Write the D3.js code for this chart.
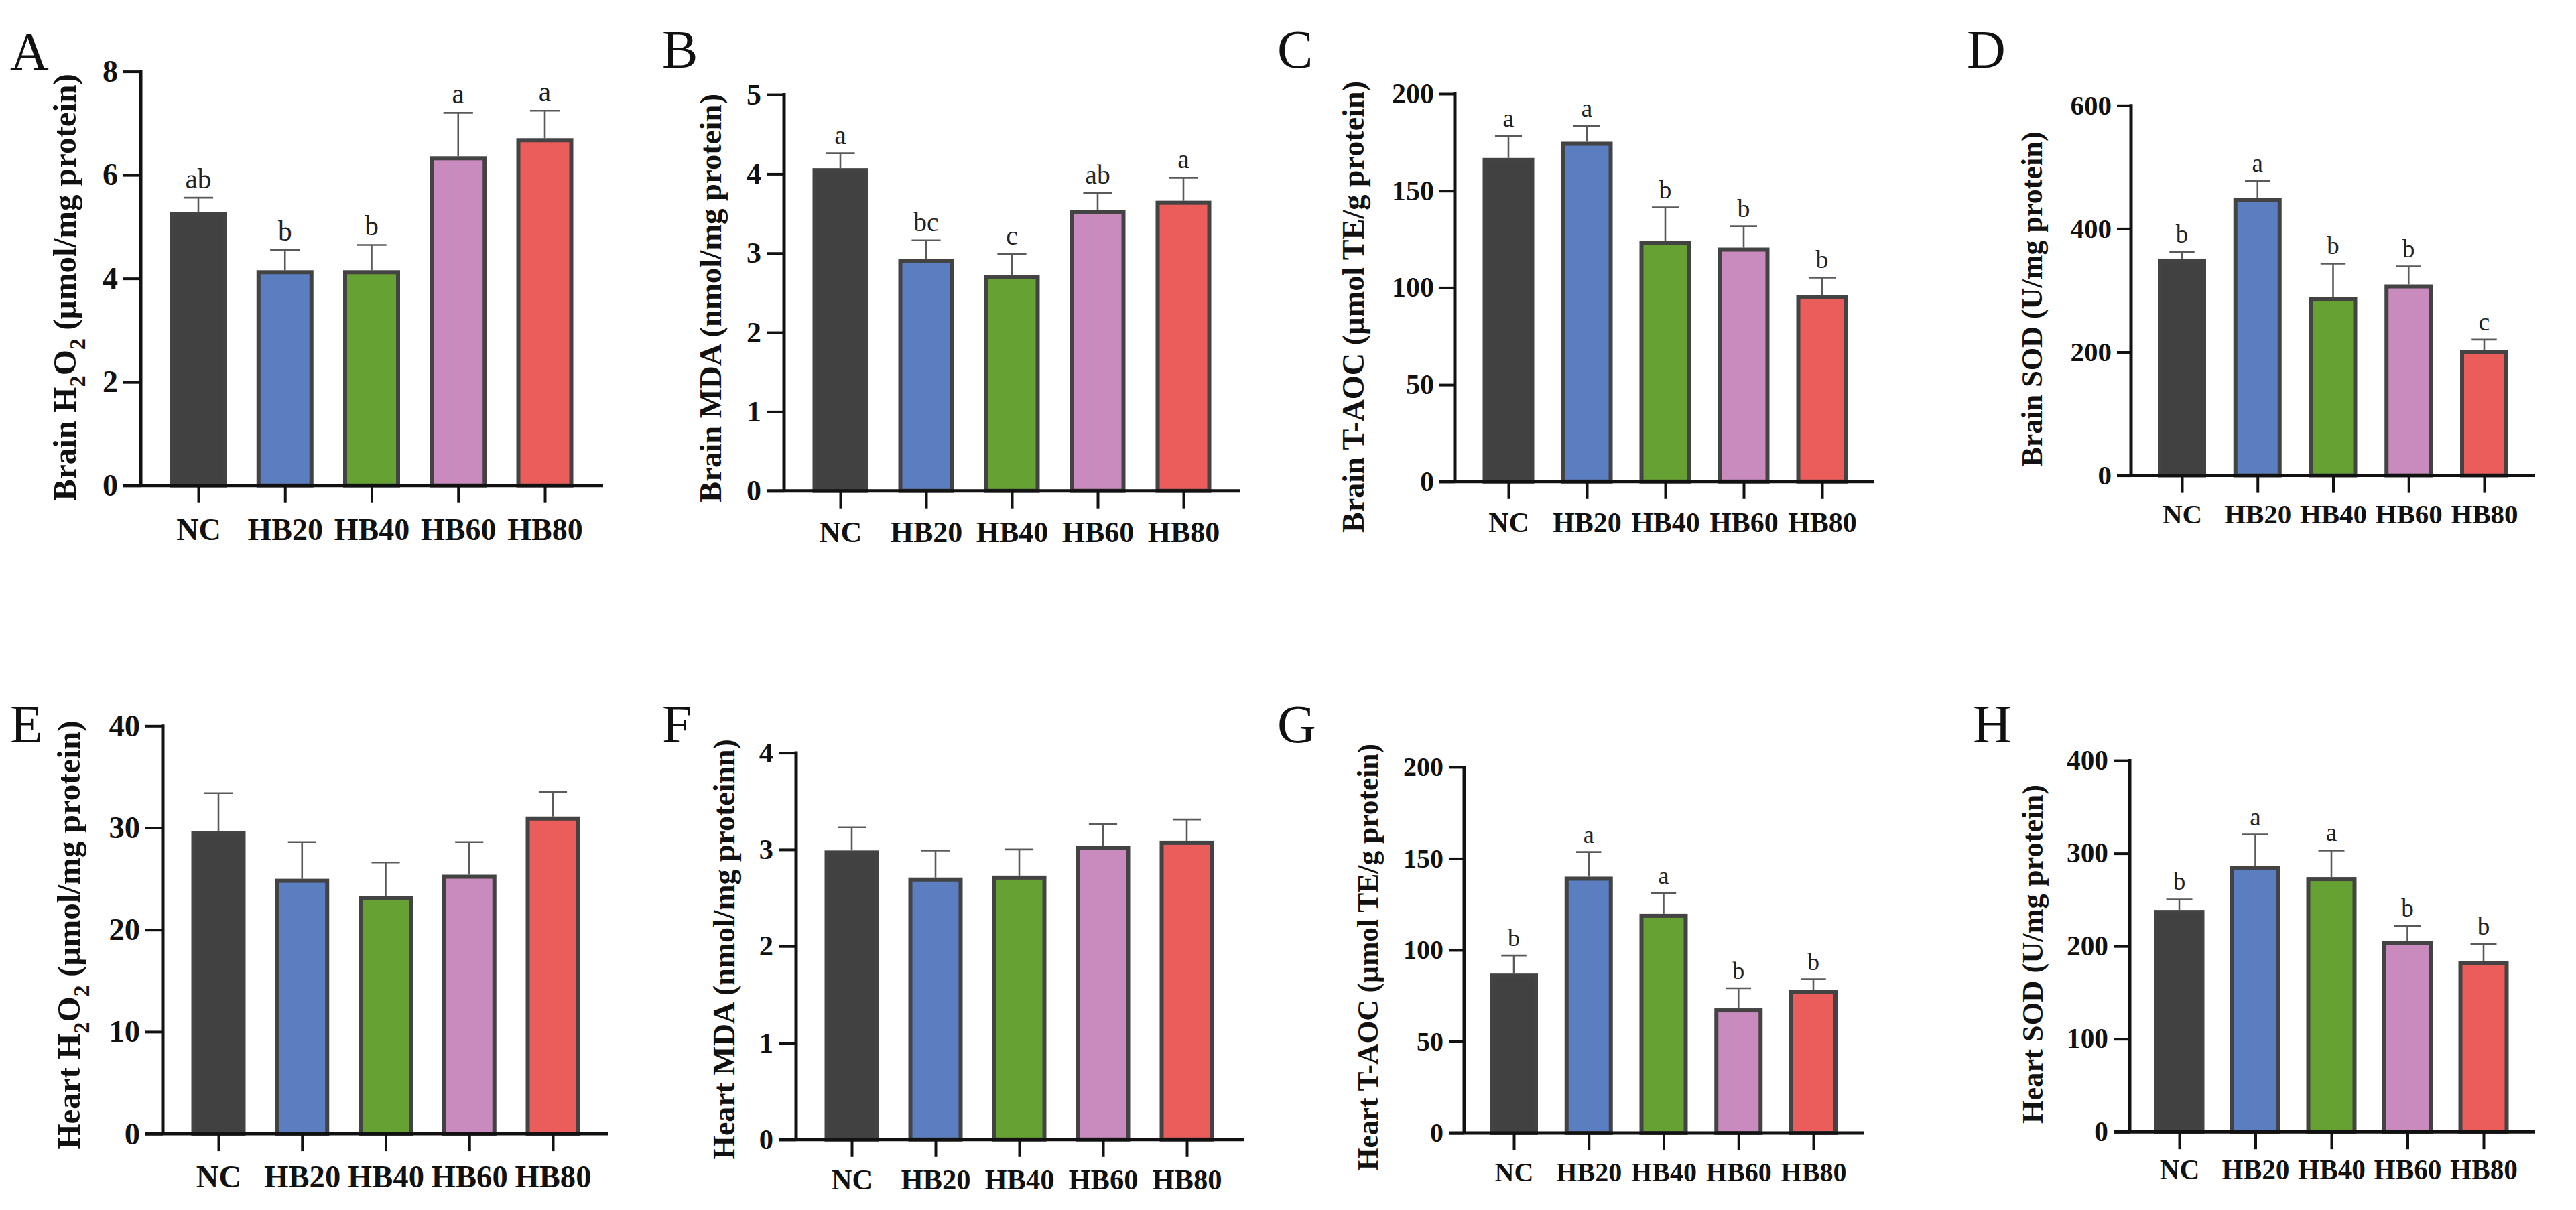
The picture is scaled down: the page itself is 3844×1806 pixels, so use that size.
<!DOCTYPE html>
<html>
<head>
<meta charset="utf-8">
<script src="https://cdn.jsdelivr.net/npm/d3@7"></script>
<style>
  html, body { margin: 0; padding: 0; background: #fff; }
  svg { display: block; }
  text { font-family: "Liberation Serif", "Times New Roman", serif; }
</style>
</head>
<body>
<svg id="chart" width="3844" height="1806"></svg>
<script>
// groups and colours
var groups = ["NC", "HB20", "HB40", "HB60", "HB80"];
var barColors = ["#414141", "#5a7ec0", "#66a133", "#c98bbd", "#eb5d5b"];

// Brain
var brainH2O2 = [5.28, 4.16, 4.16, 6.36, 6.71];
var brainH2O2Err = [0.28, 0.39, 0.49, 0.84, 0.53];
var brainH2O2Sig = ["ab", "b", "b", "a", "a"];
var brainH2O2Ticks = [0, 2, 4, 6, 8];

var brainMDA = [4.07, 2.93, 2.72, 3.54, 3.66];
var brainMDAErr = [0.19, 0.23, 0.27, 0.22, 0.29];
var brainMDASig = ["a", "bc", "c", "ab", "a"];
var brainMDATicks = [0, 1, 2, 3, 4, 5];

var brainTAOC = [166.9, 175.3, 124.1, 120.7, 96.2];
var brainTAOCErr = [11.4, 8.0, 17.3, 11.0, 9.0];
var brainTAOCSig = ["a", "a", "b", "b", "b"];
var brainTAOCTicks = [0, 50, 100, 150, 200];

var brainSOD = [351.6, 449.8, 289.0, 309.7, 202.7];
var brainSODErr = [11.2, 28.2, 54.5, 29.3, 17.5];
var brainSODSig = ["b", "a", "b", "b", "c"];
var brainSODTicks = [0, 200, 400, 600];

// Heart
var heartH2O2 = [29.7, 25.0, 23.3, 25.4, 31.1];
var heartH2O2Err = [3.7, 3.6, 3.3, 3.2, 2.4];
var heartH2O2Ticks = [0, 10, 20, 30, 40];

var heartMDA = [2.99, 2.71, 2.73, 3.04, 3.09];
var heartMDAErr = [0.24, 0.28, 0.27, 0.22, 0.22];
var heartMDATicks = [0, 1, 2, 3, 4];

var heartTAOC = [87.1, 140.1, 119.8, 68.1, 78.1];
var heartTAOCErr = [9.9, 13.5, 11.2, 11.0, 5.9];
var heartTAOCSig = ["b", "a", "a", "b", "b"];
var heartTAOCTicks = [0, 50, 100, 150, 200];

var heartSOD = [239.0, 286.5, 274.4, 205.8, 183.8];
var heartSODErr = [11.3, 33.7, 28.7, 16.2, 18.3];
var heartSODSig = ["b", "a", "a", "b", "b"];
var heartSODTicks = [0, 100, 200, 300, 400];

// titles: [text, isSubscript]
var titleBrainH2O2 = [["Brain H"], ["2", true], ["O"], ["2", true], [" (\u00b5mol/mg protein)"]];
var titleBrainMDA = [["Brain MDA (nmol/mg protein)"]];
var titleBrainTAOC = [["Brain T-AOC (\u00b5mol TE/g protein)"]];
var titleBrainSOD = [["Brain SOD (U/mg protein)"]];
var titleHeartH2O2 = [["Heart H"], ["2", true], ["O"], ["2", true], [" (\u00b5mol/mg protein)"]];
var titleHeartMDA = [["Heart MDA (nmol/mg proteinn)"]];
var titleHeartTAOC = [["Heart T-AOC (\u00b5mol TE/g protein)"]];
var titleHeartSOD = [["Heart SOD (U/mg protein)"]];

// panel layout (pixels)
var panels = [
    {key: "A", lx: 15, ly: 104, ax: 210, yTop: 106.6, y0: 724.7, c0: 296, c1: 813, xEnd: 900, barW: 85, tick: 26, fs: 46, tx: 113, ty: 429, tfs: 49, ldy: 79,
        values: brainH2O2, errs: brainH2O2Err, sig: brainH2O2Sig, ticks: brainH2O2Ticks, title: titleBrainH2O2},
    {key: "B", lx: 988, ly: 101, ax: 1170, yTop: 141.1, y0: 732.7, c0: 1254, c1: 1766, xEnd: 1851, barW: 83, tick: 26, fs: 44, tx: 1076, ty: 445, tfs: 46.7, ldy: 74,
        values: brainMDA, errs: brainMDAErr, sig: brainMDASig, ticks: brainMDATicks, title: titleBrainMDA},
    {key: "C", lx: 1906, ly: 101, ax: 2171, yTop: 140, y0: 718.8, c0: 2251, c1: 2719, xEnd: 2797, barW: 77, tick: 23, fs: 42, tx: 2035, ty: 458, tfs: 46.2, ldy: 73,
        values: brainTAOC, errs: brainTAOCErr, sig: brainTAOCSig, ticks: brainTAOCTicks, title: titleBrainTAOC},
    {key: "D", lx: 2935, ly: 101, ax: 3180, yTop: 157.3, y0: 709.6, c0: 3256, c1: 3707, xEnd: 3783, barW: 72, tick: 21, fs: 41, tx: 3047, ty: 446.5, tfs: 44.1, ldy: 69,
        values: brainSOD, errs: brainSODErr, sig: brainSODSig, ticks: brainSODTicks, title: titleBrainSOD},
    {key: "E", lx: 15, ly: 1107.5, ax: 243, yTop: 1083.3, y0: 1692.1, c0: 326, c1: 825, xEnd: 908, barW: 81, tick: 26, fs: 46.6, tx: 119, ty: 1395.5, tfs: 49, ldy: 78,
        values: heartH2O2, errs: heartH2O2Err, sig: null, ticks: heartH2O2Ticks, title: titleHeartH2O2},
    {key: "F", lx: 988, ly: 1107.5, ax: 1188, yTop: 1123.6, y0: 1700.8, c0: 1271, c1: 1771, xEnd: 1856, barW: 81, tick: 26, fs: 42.6, tx: 1096, ty: 1417, tfs: 45.9, ldy: 72,
        values: heartMDA, errs: heartMDAErr, sig: null, ticks: heartMDATicks, title: titleHeartMDA},
    {key: "G", lx: 1906, ly: 1107.5, ax: 2185, yTop: 1144.9, y0: 1691, c0: 2259, c1: 2706, xEnd: 2782, barW: 72, tick: 23, fs: 40, tx: 2056, ty: 1428.6, tfs: 43.5, ldy: 70,
        values: heartTAOC, errs: heartTAOCErr, sig: heartTAOCSig, ticks: heartTAOCTicks, title: titleHeartTAOC},
    {key: "H", lx: 2944, ly: 1107.5, ax: 3178, yTop: 1135.1, y0: 1689.2, c0: 3252, c1: 3706, xEnd: 3783, barW: 75, tick: 24, fs: 41.3, tx: 3048, ty: 1424, tfs: 44.4, ldy: 69,
        values: heartSOD, errs: heartSODErr, sig: heartSODSig, ticks: heartSODTicks, title: titleHeartSOD}
];

var svg = d3.select("#chart");
var strokeW = 6;

panels.forEach(function (p) {
    var g = svg.append("g").attr("class", "panel panel-" + p.key);

    var x = d3.scalePoint().domain(groups).range([p.c0, p.c1]);
    var y = d3.scaleLinear()
        .domain([0, d3.max(p.ticks)])
        .range([p.y0, p.yTop]);

    var rows = groups.map(function (name, i) {
        return {name: name, value: p.values[i], err: p.errs[i], sig: p.sig ? p.sig[i] : "", color: barColors[i]};
    });

    // error bars (upper only)
    var capW = p.barW * 0.52;
    var eb = g.append("g").attr("class", "errs")
        .selectAll("g").data(rows).enter().append("g");
    eb.append("line")
        .attr("x1", function (d) { return x(d.name); })
        .attr("x2", function (d) { return x(d.name); })
        .attr("y1", function (d) { return y(d.value); })
        .attr("y2", function (d) { return y(d.value + d.err); })
        .attr("stroke", "#5a5a5a").attr("stroke-width", 2.6);
    eb.append("line")
        .attr("x1", function (d) { return x(d.name) - capW / 2; })
        .attr("x2", function (d) { return x(d.name) + capW / 2; })
        .attr("y1", function (d) { return y(d.value + d.err); })
        .attr("y2", function (d) { return y(d.value + d.err); })
        .attr("stroke", "#5a5a5a").attr("stroke-width", 2.6);

    // bars
    g.append("g").attr("class", "bars")
        .selectAll("rect").data(rows).enter().append("rect")
        .attr("x", function (d) { return x(d.name) - (p.barW - strokeW) / 2; })
        .attr("width", p.barW - strokeW)
        .attr("y", function (d) { return y(d.value) + strokeW / 2; })
        .attr("height", function (d) { return p.y0 - y(d.value) - strokeW / 2; })
        .attr("fill", function (d) { return d.color; })
        .attr("stroke", "#434343")
        .attr("stroke-width", strokeW);

    // significance letters
    if (p.sig) {
        g.append("g").attr("class", "sig")
            .selectAll("text").data(rows).enter().append("text")
            .attr("x", function (d) { return x(d.name); })
            .attr("y", function (d) { return y(d.value + d.err) - 14; })
            .attr("text-anchor", "middle")
            .attr("font-size", p.fs * 0.9)
            .attr("fill", "#222")
            .text(function (d) { return d.sig; });
    }

    // y axis
    var yAxis = d3.axisLeft(y).tickValues(p.ticks).tickSize(p.tick).tickPadding(8)
        .tickFormat(d3.format("d"));
    var ya = g.append("g").attr("transform", "translate(" + p.ax + ",0)").call(yAxis);
    ya.select(".domain").remove();
    ya.selectAll(".tick line").attr("stroke", "#111").attr("stroke-width", 4);
    ya.selectAll(".tick text")
        .attr("font-family", "'Liberation Serif', 'Times New Roman', serif")
        .attr("font-weight", "bold")
        .attr("font-size", p.fs)
        .attr("fill", "#111");
    g.append("line")
        .attr("x1", p.ax).attr("x2", p.ax)
        .attr("y1", p.yTop - 2).attr("y2", p.y0)
        .attr("stroke", "#111").attr("stroke-width", 5);

    // x axis
    var xAxis = d3.axisBottom(x).tickSize(26).tickPadding(p.ldy - 26 - p.fs * 0.66);
    var xa = g.append("g").attr("transform", "translate(0," + p.y0 + ")").call(xAxis);
    xa.select(".domain").remove();
    xa.selectAll(".tick line").attr("stroke", "#111").attr("stroke-width", 4);
    xa.selectAll(".tick text")
        .attr("font-family", "'Liberation Serif', 'Times New Roman', serif")
        .attr("font-weight", "bold")
        .attr("font-size", p.fs)
        .attr("fill", "#111");
    g.append("line")
        .attr("x1", p.ax - p.tick).attr("x2", p.xEnd)
        .attr("y1", p.y0).attr("y2", p.y0)
        .attr("stroke", "#111").attr("stroke-width", 5);

    // y title
    var t = g.append("text")
        .attr("transform", "translate(" + p.tx + "," + p.ty + ") rotate(-90)")
        .attr("text-anchor", "middle")
        .attr("font-weight", "bold")
        .attr("font-size", p.tfs)
        .attr("fill", "#111");
    p.title.forEach(function (seg) {
        var sp = t.append("tspan").text(seg[0]);
        if (seg[1]) {
            sp.attr("font-size", p.tfs * 0.7).attr("dy", p.tfs * 0.28);
        } else if (t.selectAll("tspan").size() > 1) {
            sp.attr("dy", -p.tfs * 0.28);
        }
    });

    // panel letter
    g.append("text")
        .attr("x", p.lx).attr("y", p.ly)
        .attr("font-size", 80)
        .attr("fill", "#111")
        .text(p.key);
});
</script>
</body>
</html>
